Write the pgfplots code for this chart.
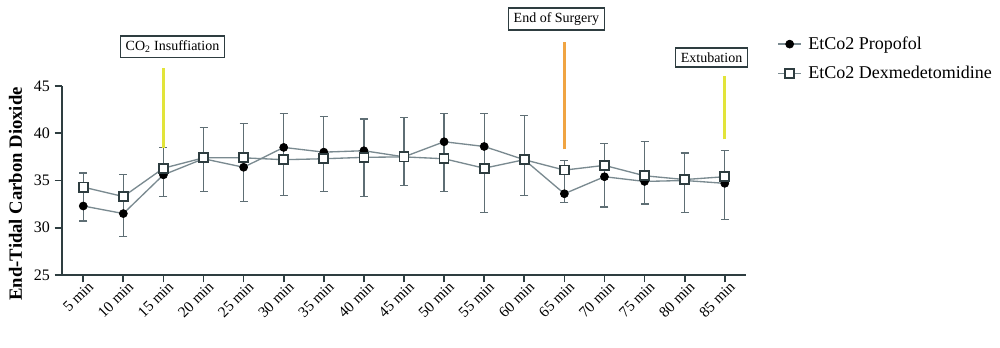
\documentclass[border=0pt]{standalone}
\usepackage{fontspec}
\setmainfont{Liberation Serif}
\usepackage{pgfplots}
\pgfplotsset{compat=1.18}
\definecolor{axc}{HTML}{2E3D40}
\definecolor{linec}{HTML}{7A8A90}
\definecolor{errc}{HTML}{5E6E74}
\definecolor{yel}{HTML}{E2E43A}
\definecolor{ora}{HTML}{F0A442}
\begin{document}
\begin{tikzpicture}[x=1pt,y=1pt]
\path[use as bounding box] (0,0) rectangle (750,261);
\begin{axis}[
  at={(46.5pt,54.75pt)}, anchor=south west,
  scale only axis, width=513pt, height=141.75pt,
  xmin=-0.53, xmax=16.53, ymin=25, ymax=45,
  clip=false,
  axis lines=left,
  axis line style={-, line width=1.5pt, draw=axc},
  tick align=outside,
  major tick length=5.5pt,
  tick style={line width=1.3pt, draw=axc},
  xtick={0,...,16},
  xticklabels={5 min,10 min,15 min,20 min,25 min,30 min,35 min,40 min,45 min,50 min,55 min,60 min,65 min,70 min,75 min,80 min,85 min},
  xticklabel style={rotate=45, anchor=north east, font=\fontsize{11.5}{12}\selectfont, inner sep=1pt, xshift=4pt},
  ytick={25,30,35,40,45},
  yticklabel style={font=\fontsize{12}{13}\selectfont},
  /pgf/number format/assume math mode=true,
  ylabel={\textbf{End-Tidal Carbon Dioxide}},
  ylabel style={font=\fontsize{14}{15}\selectfont, yshift=2pt, xshift=-10pt},
  legend style={at={(1.04,1.29)}, anchor=north west, draw=none, fill=none,
    font=\fontsize{13.5}{15}\selectfont, row sep=7pt,
    nodes={inner xsep=5pt}},
  legend cell align=left,
]
\addplot[color=linec, line width=1pt, mark=*, mark size=3pt,
  mark options={fill=black, draw=black, line width=0.5pt},
  error bars/.cd, y dir=both, y explicit,
  error bar style={draw=errc, line width=1pt},
  error mark options={rotate=90, mark size=3pt, line width=1pt, draw=errc}]
coordinates {
(0,32.3) += (0,3.5) -= (0,1.6)
(1,31.5) += (0,4.15) -= (0,2.45)
(2,35.6) += (0,2.9) -= (0,2.3)
(3,37.3) += (0,3.3) -= (0,3.5)
(4,36.4) += (0,4.6) -= (0,3.6)
(5,38.5) += (0,3.6) -= (0,5.1)
(6,38.0) += (0,3.8) -= (0,4.2)
(7,38.15) += (0,3.35) -= (0,4.85)
(8,37.5) += (0,4.2) -= (0,3.05)
(9,39.1) += (0,3.0) -= (0,5.25)
(10,38.6) += (0,3.5) -= (0,7.0)
(11,37.2) += (0,4.7) -= (0,3.8)
(12,33.6) += (0,3.5) -= (0,0.95)
(13,35.4) += (0,3.5) -= (0,3.2)
(14,34.9) += (0,4.2) -= (0,2.4)
(15,35.0) += (0,2.9) -= (0,3.4)
(16,34.7) += (0,3.45) -= (0,3.8)
};
\addlegendentry{EtCo2 Propofol}
\addplot[color=linec, line width=1pt, mark=square*, mark size=3.4pt,
  mark options={fill=white, draw=axc, line width=1.3pt}]
coordinates {
(0,34.3) (1,33.3) (2,36.3) (3,37.4) (4,37.4) (5,37.2) (6,37.3) (7,37.45)
(8,37.5) (9,37.3) (10,36.3) (11,37.2) (12,36.1) (13,36.6) (14,35.5) (15,35.1) (16,35.4)
};
\addlegendentry{EtCo2 Dexmedetomidine}
\addplot[forget plot, color=yel, line width=2.2pt, mark=none] coordinates {(2,38.4) (2,46.9)};
\addplot[forget plot, color=ora, line width=2.2pt, mark=none] coordinates {(12,38.3) (12,49.66)};
\addplot[forget plot, color=yel, line width=2.2pt, mark=none] coordinates {(16,39.35) (16,46.05)};
\node[draw=axc, line width=1.2pt, fill=white, inner xsep=4pt, inner ysep=3.5pt,
  font=\fontsize{10.5}{12}\selectfont] at (axis cs:2.225,49.13) {CO\textsubscript{2} Insuffiation};
\node[draw=axc, line width=1.2pt, fill=white, inner xsep=4pt, inner ysep=3.5pt,
  font=\fontsize{10.5}{12}\selectfont] at (axis cs:11.80,52.09) {End of Surgery};
\node[draw=axc, line width=1.2pt, fill=white, inner xsep=4pt, inner ysep=3.5pt,
  font=\fontsize{10.5}{12}\selectfont] at (axis cs:15.67,48.0) {Extubation};
\end{axis}
\end{tikzpicture}
\end{document}
